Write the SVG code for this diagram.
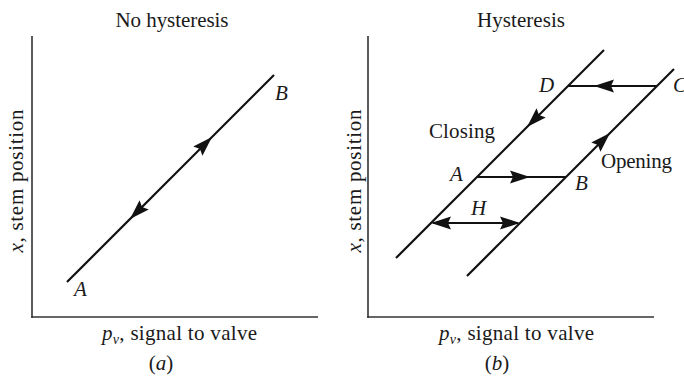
<svg xmlns="http://www.w3.org/2000/svg" width="684" height="377" viewBox="0 0 684 377">
<style>
text{font-family:"Liberation Serif","Times New Roman",serif;font-size:21px;fill:#1a1a1a}
.i{font-style:italic}
.ax{stroke:#333;stroke-width:1.6;fill:none}
.ln{stroke:#111;stroke-width:2.2;fill:none}
.ah{fill:#111}
</style>
<defs>
<path id="ah" class="ah" d="M0,0 L-20,-6.5 L-17,0 L-20,6.5 Z"/>
</defs>
<g id="panel-a">
<text x="172" y="27" text-anchor="middle" textLength="113">No hysteresis</text>
<g id="axes-a">
<line class="ax" x1="32" y1="36" x2="32" y2="318"/>
<line class="ax" x1="31.2" y1="317" x2="318" y2="317"/>
</g>
<text transform="translate(23,181) rotate(-90)" text-anchor="middle" textLength="143"><tspan class="i">x</tspan>, stem position</text>
<text x="102" y="340" textLength="155"><tspan class="i">p</tspan><tspan class="i" font-size="14" dy="4">v</tspan><tspan dy="-4">, signal to valve</tspan></text>
<text x="161" y="370" text-anchor="middle">(<tspan class="i">a</tspan>)</text>
<g id="node-A-a"><text class="i" x="74" y="296">A</text></g>
<g id="node-B-a"><text class="i" x="275" y="100">B</text></g>
</g>
<g id="panel-b">
<text x="521" y="27" text-anchor="middle" textLength="88">Hysteresis</text>
<g id="axes-b">
<line class="ax" x1="368" y1="36" x2="368" y2="318"/>
<line class="ax" x1="367.2" y1="317" x2="654" y2="317"/>
</g>
<text transform="translate(361,181) rotate(-90)" text-anchor="middle" textLength="143"><tspan class="i">x</tspan>, stem position</text>
<text x="439" y="340" textLength="155"><tspan class="i">p</tspan><tspan class="i" font-size="14" dy="4">v</tspan><tspan dy="-4">, signal to valve</tspan></text>
<text x="497" y="370" text-anchor="middle">(<tspan class="i">b</tspan>)</text>
<g id="node-A-b"><text class="i" x="450" y="181">A</text></g>
<g id="node-B-b"><text class="i" x="575" y="190">B</text></g>
<g id="node-C"><text class="i" x="673" y="92">C</text></g>
<g id="node-D"><text class="i" x="539" y="92">D</text></g>
<g id="label-H"><text class="i" x="471" y="215">H</text></g>
<g id="label-closing"><text x="429" y="138" textLength="66">Closing</text></g>
<g id="label-opening"><text x="601" y="168" textLength="71">Opening</text></g>
</g>
<g id="connectors">
<line class="ln" x1="67" y1="282" x2="274" y2="75"/>
<use href="#ah" transform="translate(212,137) rotate(-45)"/>
<use href="#ah" transform="translate(130,219) rotate(135)"/>
<line class="ln" x1="396" y1="258" x2="604" y2="50"/>
<line class="ln" x1="467" y1="276" x2="674" y2="69"/>
<line class="ln" x1="568" y1="86" x2="657" y2="86"/>
<use href="#ah" transform="translate(594,86) rotate(180)"/>
<line class="ln" x1="477" y1="177" x2="566" y2="177"/>
<use href="#ah" transform="translate(530,177)"/>
<line class="ln" x1="433" y1="223" x2="518" y2="223"/>
<use href="#ah" transform="translate(431,223) rotate(180)"/>
<use href="#ah" transform="translate(520,223)"/>
<use href="#ah" transform="translate(527,127) rotate(135)"/>
<use href="#ah" transform="translate(610,133) rotate(-45)"/>
</g>
</svg>
